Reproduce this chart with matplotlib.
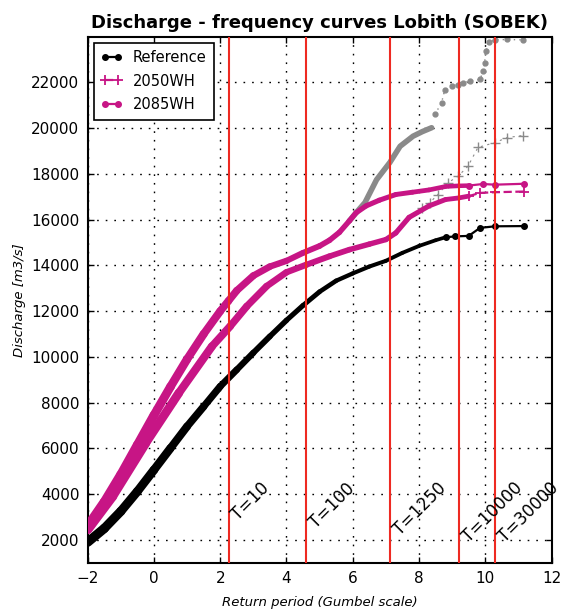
import matplotlib
matplotlib.use('Agg')
import matplotlib.pyplot as plt
from matplotlib.collections import LineCollection
import numpy as np

# ---------------- data ----------------
return_periods = [10, 100, 1250, 10000, 30000]
period_labels = ['T=10', 'T=100', 'T=1250', 'T=10000', 'T=30000']

# Reference (black) – dense part
ref_x = [-2.0, -1.5, -1.0, -0.5, 0.0, 0.5, 1.0, 1.5, 2.0, 2.5, 3.0, 3.5, 4.0,
         4.5, 5.0, 5.5, 6.0, 6.5, 7.0, 7.5, 8.0, 8.5, 8.8]
ref_y = [1900, 2500, 3250, 4120, 5060, 6010, 6960, 7830, 8710, 9440, 10180, 10900,
         11600, 12250, 12850, 13330, 13650, 13950, 14200, 14550, 14850, 15100, 15230]
# Reference – sparse tail
ref_tail_x = [8.8, 9.1, 9.5, 9.84, 10.29, 11.17]
ref_tail_y = [15230, 15270, 15290, 15640, 15710, 15720]

# 2050WH (pink, dashed, '+') – dense part
w50_x = [-2.0, -1.25, -0.25, 0.75, 1.75, 2.3, 2.8, 3.4, 4.0, 4.6, 5.3, 5.9, 6.5,
         7.0, 7.3, 7.7, 8.3, 8.8, 9.2, 9.5]
w50_y = [2450, 3900, 6230, 8420, 10460, 11340, 12210, 13090, 13700, 14030, 14400,
         14690, 14930, 15130, 15420, 16100, 16600, 16880, 16950, 17030]
w50_tail_x = [9.5, 9.84, 10.29, 11.17]
w50_tail_y = [17030, 17170, 17200, 17230]

# 2085WH (pink, solid, dots) – dense part
w85_x = [-2.0, -1.5, -1.0, -0.5, 0.0, 0.5, 1.0, 1.5, 2.0, 2.25, 2.5, 3.0, 3.5,
         4.0, 4.5, 5.0, 5.3, 5.6, 5.9, 6.1, 6.4, 6.8, 7.3, 7.8, 8.3, 8.8, 9.2, 9.5]
w85_y = [2600, 3650, 4850, 6150, 7450, 8700, 9900, 11000, 12000, 12450, 12900,
         13550, 13950, 14200, 14550, 14850, 15100, 15450, 15950, 16300, 16600,
         16850, 17100, 17200, 17300, 17450, 17480, 17490]
w85_tail_x = [9.5, 9.93, 10.29, 11.17]
w85_tail_y = [17490, 17560, 17530, 17570]

# Unclipped values (grey) – 2085WH continuation (dots)
g85_x = [5.9, 6.1, 6.37, 6.72, 7.12, 7.43, 7.82, 8.1, 8.38]
g85_y = [15950, 16300, 16750, 17750, 18500, 19210, 19650, 19850, 20020]
g85_tail_x = [8.48, 8.68, 8.78, 8.99, 9.18, 9.33, 9.54, 9.84, 9.94, 9.98,
              10.02, 10.1, 10.29, 10.66, 11.14]
g85_tail_y = [20600, 21110, 21690, 21840, 21910, 21990, 22060, 22130, 22500,
              22870, 23370, 23750, 23860, 23880, 23860]

# Unclipped values (grey) – 2050WH continuation ('+')
g50_x = [8.1, 8.33, 8.57, 8.88, 9.18, 9.48, 9.78, 10.29, 10.66, 11.14]
g50_y = [16500, 16750, 17100, 17620, 17900, 18340, 19160, 19370, 19590, 19680]

x_ticks = [-2, 0, 2, 4, 6, 8, 10, 12]
y_ticks = [2000, 4000, 6000, 8000, 10000, 12000, 14000, 16000, 18000, 20000, 22000]

# ---------------- styling ----------------
plt.rcParams['font.family'] = ['DejaVu Sans']
PINK = '#C71585'
GREY = '#8a8a8a'
RED = '#ee2a22'

fig = plt.figure(figsize=(5.63, 6.16), dpi=100)
ax = fig.add_axes([0.1558, 0.0865, 0.9796 - 0.1558, 0.9404 - 0.0865])

# grey unclipped series
ax.plot(g50_x, g50_y, color=GREY, lw=0.8, ls=(0, (2, 4)), marker='+', ms=7,
        mew=1.0, zorder=2)
ax.plot(g85_x, g85_y, color=GREY, lw=4.0, solid_capstyle='round', zorder=2)
ax.plot(g85_tail_x, g85_tail_y, color=GREY, lw=1.0, ls=(0, (1, 3)), marker='o',
        ms=3.5, mec=GREY, zorder=2)


def dense(xs, ys, color, knots, widths):
    """Dense run of overlapping markers: drawn as a tapered thick line."""
    xs = np.asarray(xs, float)
    ys = np.asarray(ys, float)
    pts = np.column_stack([xs, ys])
    segs = np.stack([pts[:-1], pts[1:]], axis=1)
    mid = 0.5 * (xs[:-1] + xs[1:])
    lws = np.interp(mid, knots, widths)
    lc = LineCollection(segs, colors=color, linewidths=lws, capstyle='round',
                        joinstyle='round', zorder=3)
    ax.add_collection(lc)


dense(ref_x, ref_y, 'black', [-2, 0, 2, 4, 6, 9], [6.8, 6.2, 5.0, 3.8, 3.0, 2.6])
dense(w50_x, w50_y, PINK, [-2, 0, 2, 4, 6, 9.5], [6.8, 6.4, 5.6, 4.6, 4.0, 3.4])
dense(w85_x, w85_y, PINK, [-2, 0, 2, 4, 6, 9.5], [6.8, 6.4, 5.6, 4.4, 3.8, 3.2])

l_ref, = ax.plot(ref_tail_x, ref_tail_y, color='black', lw=1.6, marker='o', ms=4,
                 label='Reference', zorder=3)
l_50, = ax.plot(w50_tail_x, w50_tail_y, color=PINK, lw=1.6, ls='--', marker='+',
                ms=7, mew=1.3, label='2050WH', zorder=3)
l_85, = ax.plot(w85_tail_x, w85_tail_y, color=PINK, lw=1.6, marker='o', ms=4,
                mec=PINK, label='2085WH', zorder=3)

# vertical return-period lines (Gumbel reduced variate)
for T, lab in zip(return_periods, period_labels):
    g = -np.log(-np.log(1.0 - 1.0 / T))
    ax.axvline(g, color=RED, lw=1.5, zorder=4)
    ax.text(g, 4650, lab, rotation=45, ha='left', va='top', fontsize=12,
            zorder=5, clip_on=False)

ax.set_xlim(-2, 12)
ax.set_ylim(1000, 24000)
ax.set_xticks(x_ticks)
ax.set_yticks(y_ticks)
ax.tick_params(direction='in', length=4, width=1, top=True, right=True,
               labelsize=11, pad=6)
for s in ax.spines.values():
    s.set_linewidth(1.5)
ax.grid(True, color='black', ls=(0, (1.2, 5)), lw=1.0)
ax.set_axisbelow(True)

ax.set_title('Discharge - frequency curves Lobith (SOBEK)', fontsize=13,
             fontweight='bold', pad=6)
ax.set_xlabel('Return period (Gumbel scale)', fontsize=9.5, style='italic',
              labelpad=7)
ax.set_ylabel('Discharge [m3/s]', fontsize=9.5, style='italic', labelpad=4)

leg = ax.legend(handles=[l_ref, l_50, l_85], loc='upper left', fontsize=10.5,
                numpoints=2, handlelength=1.5, fancybox=False, framealpha=1,
                edgecolor='black', borderaxespad=0.4, labelspacing=0.6,
                handletextpad=0.7, borderpad=0.5)
leg.get_frame().set_linewidth(1.2)
leg.set_zorder(10)

fig.savefig('out.png', dpi=100, facecolor='white')
